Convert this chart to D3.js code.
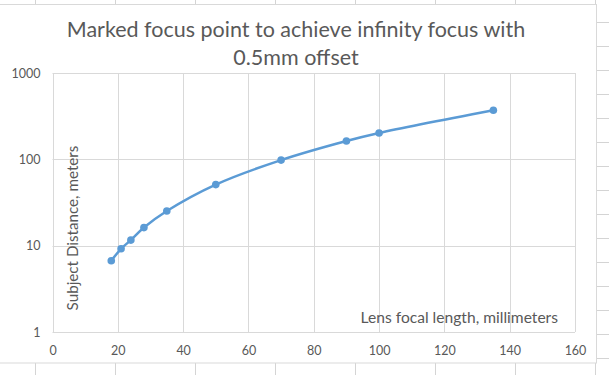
<!DOCTYPE html>
<html><head><meta charset="utf-8">
<script src="https://cdn.jsdelivr.net/npm/d3@7"></script>
<style>body{margin:0;background:#fff;}svg{display:block;}</style>
</head><body>
<svg id="c" width="609" height="375"></svg>
<script>
const focalLengths = [18, 21, 24, 28, 35, 50, 70, 90, 100, 135];
const distances = [6.7, 9.2, 11.6, 16.2, 25.2, 51, 98, 163, 202, 370];
const xTicks = [0, 20, 40, 60, 80, 100, 120, 140, 160];
const yTicks = [1, 10, 100, 1000];
const titleLines = ["Marked focus point to achieve infinity focus with", "0.5mm offset"];
const xTitle = "Lens focal length, millimeters";
const yTitle = "Subject Distance, meters";

const svg = d3.select("#c");
const font = "Lato, 'Open Sans', sans-serif";
const grid = "#d9d9d9";
const txt = "#595959";

// spreadsheet background gridlines
const colX = [35, 115, 195, 275, 355, 435, 515, 595];
const rowY = d3.range(22, 375, 24);
colX.forEach(x => {
  svg.append("line").attr("x1", x + .5).attr("x2", x + .5).attr("y1", 0).attr("y2", 375).attr("stroke", "#d4d4d4");
});
rowY.forEach(y => {
  svg.append("line").attr("x1", 0).attr("x2", 609).attr("y1", y + .5).attr("y2", y + .5).attr("stroke", "#d4d4d4");
});
// chart area
svg.append("rect").attr("x", -1).attr("y", 4.5).attr("width", 597.5).attr("height", 358.5)
  .attr("fill", "#fff").attr("stroke", grid);

const x = d3.scaleLinear().domain([0, 160]).range([52.5, 575]);
const y = d3.scaleLog().domain([1, 1000]).range([332, 73]);

const g = svg.append("g");
// gridlines
g.selectAll(".vg").data(xTicks).join("line")
  .attr("x1", d => Math.round(x(d)) + .5).attr("x2", d => Math.round(x(d)) + .5)
  .attr("y1", y(1000)).attr("y2", y(1)).attr("stroke", grid);
g.selectAll(".hg").data(yTicks).join("line")
  .attr("x1", x(0)).attr("x2", x(160))
  .attr("y1", d => Math.round(y(d)) + .5).attr("y2", d => Math.round(y(d)) + .5).attr("stroke", grid);

// axes (labels only)
const xAxis = g.append("g").attr("transform", `translate(0,${y(1)})`)
  .call(d3.axisBottom(x).tickValues(xTicks).tickSize(0).tickPadding(14).tickFormat(d3.format("d")));
const yAxis = g.append("g").attr("transform", `translate(${x(0)},0)`)
  .call(d3.axisLeft(y).tickValues(yTicks).tickSize(0).tickPadding(12).tickFormat(d3.format("d")));
[xAxis, yAxis].forEach(a => {
  a.select(".domain").remove();
  a.selectAll("text").attr("fill", txt).style("font-family", font).style("font-size", "12.5px");
});

// title
svg.append("text").attr("x", 296).attr("y", 37).attr("text-anchor", "middle")
  .attr("fill", txt).style("font-family", font).style("font-size", "21.5px").text(titleLines[0]);
svg.append("text").attr("x", 296).attr("y", 65).attr("text-anchor", "middle")
  .attr("fill", txt).style("font-family", font).style("font-size", "21.5px").text(titleLines[1]);

// axis titles
svg.append("text").attr("x", 558).attr("y", 323).attr("text-anchor", "end")
  .attr("fill", txt).style("font-family", font).style("font-size", "15.6px").text(xTitle);
svg.append("text").attr("transform", "translate(78,228) rotate(-90)").attr("text-anchor", "middle")
  .attr("fill", txt).style("font-family", font).style("font-size", "15.2px").text(yTitle);

// series
const pts = focalLengths.map((f, i) => [f, distances[i]]);
const line = d3.line().x(d => x(d[0])).y(d => y(d[1])).curve(d3.curveCatmullRom.alpha(0.5));
g.append("path").attr("d", line(pts)).attr("fill", "none").attr("stroke", "#5b9bd5").attr("stroke-width", 2.5);
g.selectAll(".pt").data(pts).join("circle")
  .attr("cx", d => x(d[0])).attr("cy", d => y(d[1])).attr("r", 3.8).attr("fill", "#5b9bd5");
</script>
</body></html>
